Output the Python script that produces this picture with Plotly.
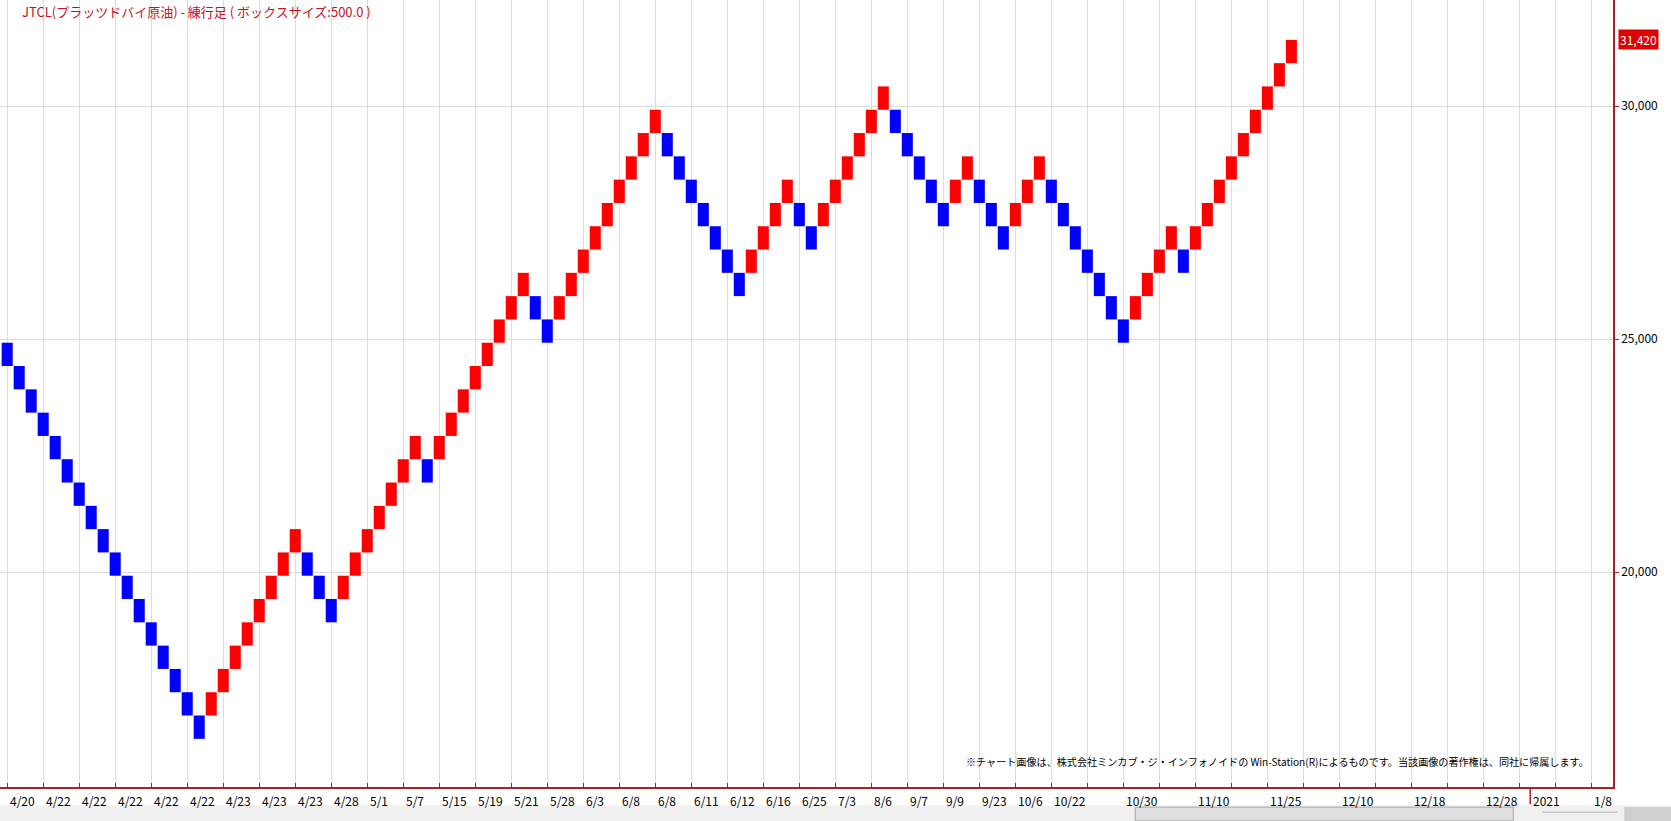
import plotly.graph_objects as go

# renko bricks (box size 500): bottom of each brick and its direction
box_size = 500
brick_low = [
    24420, 23920, 23420, 22920, 22420, 21920, 21420, 20920, 20420, 19920, 19420, 18920,
    18420, 17920, 17420, 16920, 16420,
    16920, 17420, 17920, 18420, 18920, 19420, 19920, 20420,
    19920, 19420, 18920,
    19420, 19920, 20420, 20920, 21420, 21920, 22420,
    21920,
    22420, 22920, 23420, 23920, 24420, 24920, 25420, 25920,
    25420, 24920,
    25420, 25920, 26420, 26920, 27420, 27920, 28420, 28920, 29420,
    28920, 28420, 27920, 27420, 26920, 26420, 25920,
    26420, 26920, 27420, 27920,
    27420, 26920,
    27420, 27920, 28420, 28920, 29420, 29920,
    29420, 28920, 28420, 27920, 27420,
    27920, 28420,
    27920, 27420, 26920,
    27420, 27920, 28420,
    27920, 27420, 26920, 26420, 25920, 25420, 24920,
    25420, 25920, 26420, 26920,
    26420,
    26920, 27420, 27920, 28420, 28920, 29420, 29920, 30420, 30920,
]
brick_dir = (
    "d" * 17 + "u" * 8 + "d" * 3 + "u" * 7 + "d" * 1 + "u" * 8 + "d" * 2 + "u" * 9
    + "d" * 7 + "u" * 4 + "d" * 2 + "u" * 6 + "d" * 5 + "u" * 2 + "d" * 3 + "u" * 3
    + "d" * 7 + "u" * 4 + "d" * 1 + "u" * 9
)
last_price = 31420

# date labels, one per grid line (every 3 bricks)
tick_labels = [
    "4/20", "4/22", "4/22", "4/22", "4/22", "4/22", "4/23", "4/23", "4/23", "4/28",
    "5/1", "5/7", "5/15", "5/19", "5/21", "5/28", "6/3", "6/8", "6/8", "6/11",
    "6/12", "6/16", "6/25", "7/3", "8/6", "9/7", "9/9", "9/23", "10/6", "10/22",
    "", "10/30", "", "11/10", "", "11/25", "", "12/10", "", "12/18",
    "", "12/28", "", "", "1/8",
]
year_label = "2021"
year_pos = 126.9

y_ticks = [20000, 25000, 30000]

title_text = "JTCL(プラッツドバイ原油) - 練行足 ( ボックスサイズ:500.0 )"
credit_text = ("※チャート画像は、株式会社ミンカブ・ジ・インフォノイドの Win-Station(R)によるものです。"
               "当該画像の著作権は、同社に帰属します。")

font_jp = "Noto Sans CJK JP"
axis_red = "#a8202a"

x_idx = list(range(len(brick_low)))
colors = ["#ff0000" if d == "u" else "#0000ff" for d in brick_dir]

fig = go.Figure()
fig.add_trace(go.Bar(
    x=x_idx, y=[box_size] * len(brick_low), base=brick_low,
    width=0.92, marker=dict(color=colors, line=dict(width=0)),
    hoverinfo="skip", showlegend=False,
))

tick_vals = [3 * k for k in range(len(tick_labels))]

fig.update_layout(
    width=1671, height=821,
    margin=dict(l=0, r=58, t=0, b=34),
    paper_bgcolor="white", plot_bgcolor="white",
    showlegend=False,
    xaxis=dict(
        range=[-0.6, 133.8], tickvals=tick_vals, showticklabels=False,
        ticks="inside", ticklen=4, tickcolor=axis_red,
        showgrid=True, gridcolor="#dcdcdc", gridwidth=1,
        showline=True, linecolor=axis_red, linewidth=1.5, zeroline=False,
    ),
    yaxis=dict(
        side="right", range=[15386, 32275],
        tickvals=y_ticks, ticktext=[f"{v:,}" for v in y_ticks],
        ticks="outside", ticklen=4, tickcolor=axis_red,
        tickfont=dict(family=font_jp, size=12, color="black"),
        showgrid=True, gridcolor="#dcdcdc", gridwidth=1,
        showline=True, linecolor=axis_red, linewidth=1.5, zeroline=False,
    ),
)

annotations = []
for v, lab in zip(tick_vals, tick_labels):
    if lab:
        annotations.append(dict(
            x=v, y=-0.017, xref="x", yref="paper", text=lab, showarrow=False,
            xanchor="left", yanchor="middle", xshift=1,
            font=dict(family=font_jp, size=12, color="black"),
        ))
annotations.append(dict(
    x=year_pos, y=-0.017, xref="x", yref="paper", text=year_label, showarrow=False,
    xanchor="left", yanchor="middle", xshift=1,
    font=dict(family=font_jp, size=12, color="black"),
))
annotations.append(dict(
    x=0.0124, y=0.985, xref="paper", yref="paper", text=title_text, showarrow=False,
    xanchor="left", yanchor="middle",
    font=dict(family=font_jp, size=13, color="#c8101e"),
))
annotations.append(dict(
    x=0.9865, y=0.033, xref="paper", yref="paper", text=credit_text, showarrow=False,
    xanchor="right", yanchor="middle",
    font=dict(family=font_jp, size=10.1, color="black"),
))
annotations.append(dict(
    x=1, y=last_price, xref="paper", yref="y", text=f"{last_price:,}", showarrow=False,
    xanchor="left", yanchor="middle", xshift=5,
    bgcolor="#e00000", borderpad=1,
    font=dict(family=font_jp, size=12, color="white"),
))
fig.update_layout(annotations=annotations)

# year separator and the scroll bar strip under the axis
shapes = [
    dict(type="line", xref="x", yref="paper", x0=year_pos, x1=year_pos, y0=0, y1=-0.022,
         line=dict(color=axis_red, width=1.5)),
    dict(type="rect", xref="paper", yref="paper", x0=0, x1=1.037, y0=-0.0235, y1=-0.044,
         fillcolor="#f0f0f0", line=dict(width=0), layer="below"),
    dict(type="rect", xref="paper", yref="paper", x0=0.7038, x1=0.9382, y0=-0.0255, y1=-0.043,
         fillcolor="#dedede", line=dict(color="#a8a8a8", width=1)),
    dict(type="line", xref="paper", yref="paper", x0=0.956, x1=1.003, y0=-0.032, y1=-0.032,
         line=dict(color="#b0b0b0", width=1)),
    dict(type="rect", xref="paper", yref="paper", x0=1.007, x1=1.037, y0=-0.0255, y1=-0.044,
         fillcolor="#cfcfcf", line=dict(width=0)),
]
fig.update_layout(shapes=shapes)

# page body has a default 8px margin; drop it so the figure sits at the window corner
fig.write_html("out.html", config={"displayModeBar": False},
               post_script="document.body.style.margin='0';")
